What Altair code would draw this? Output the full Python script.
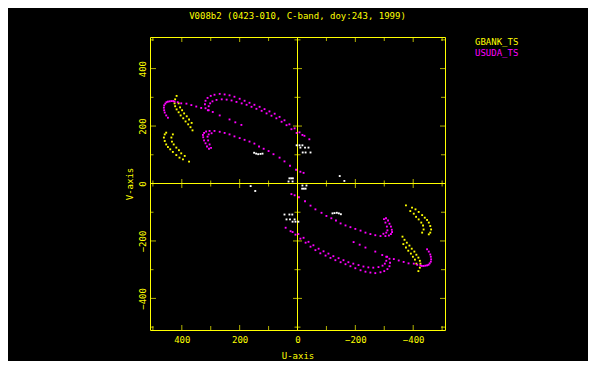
import altair as alt
import pandas as pd

TITLE = "V008b2 (0423-010, C-band, doy:243, 1999)"
STATIONS = ["GBANK_TS", "USUDA_TS", "other"]
COLORS = ["#ffff00", "#ff00ff", "#ffffff"]
YEL = "#ffff00"
FONT = "DejaVu Sans Mono"

# USUDA_TS tracks (one half of the uv-plane; the conjugate half is (-u, -v))
usuda_u = [448, 454, 459, 461, 462, 461, 457, 453, 448, 442, 436, 430, 425, 414, 402, 384, 367, 350, 333, 310, 293, 269, 235, 215, 194,
           318, 320, 318, 311, 300, 287, 269, 252, 235, 218, 200, 183, 166, 149, 131, 114, 97, 79, 62, 45, 28, 10, -7, -24, -41,
           307, 307, 302, 294, 280, 262, 245, 228, 211, 193, 176, 159, 142, 124, 107, 90, 73, 55, 38, 21, 3, -17,
           306, 313, 318, 323, 326, 327, 323, 316, 304, 287, 269, 252, 235, 218, 200, 183, 166, 149, 133, 117, 100, 83, 62, 45, 26, 5, -10, -21,
           299, 304, 309, 311, 307, 297]
usuda_v = [229, 237, 247, 255, 264, 272, 278, 283, 285, 286, 287, 287, 285, 283, 279, 278, 273, 268, 263, 255, 249, 237, 223, 213, 204,
           262, 276, 288, 298, 305, 309, 312, 310, 307, 302, 295, 288, 281, 274, 267, 259, 251, 243, 232, 220, 206, 192, 178, 166, 154,
           255, 269, 279, 286, 291, 293, 292, 289, 284, 279, 274, 267, 260, 253, 244, 236, 227, 215, 203, 189, 176, 169,
           121, 129, 140, 150, 161, 169, 176, 181, 183, 183, 180, 176, 171, 164, 158, 152, 146, 139, 129, 121, 113, 102, 90, 77, 62, 48, 41, 37,
           124, 136, 150, 163, 171, 175]

# GBANK_TS tracks
gbank_u = [418, 423, 425, 423, 418, 411, 404, 395, 387, 378, 370, 363,
           411, 406, 399, 392, 383, 375, 366,
           454, 459, 462, 459, 454, 448, 440, 431, 419, 408, 396, 375,
           431, 436, 434, 428, 419, 410, 402, 390]
gbank_v = [305, 293, 279, 269, 258, 248, 237, 227, 216, 206, 196, 185,
           279, 265, 255, 244, 234, 223, 211,
           177, 171, 160, 148, 136, 127, 119, 110, 99, 90, 84, 76,
           171, 160, 146, 136, 125, 116, 105, 96]

# other (short) baselines, drawn white
other_u = [150, 143, 136, 128, 121, 162, 146, 3, -7, -17, -10, -26, -38, -18, -28, -45, 16, 22, 28, 31, 17]
other_v = [107, 104, 102, 103, 104, -9, -26, 133, 133, 133, 125, 125, 125, 108, 108, 108, 18, 18, 18, 7, 7]

major_ticks = [-400, -200, 0, 200, 400]
minor_ticks = [-500, -300, -100, 100, 300, 500]
LIM = 510

rows = []
for name, us, vs in [("GBANK_TS", gbank_u, gbank_v), ("USUDA_TS", usuda_u, usuda_v), ("other", other_u, other_v)]:
    for u, v in zip(us, vs):
        rows.append({"station": name, "u": u, "v": v})
        rows.append({"station": name, "u": -u, "v": -v})
df = pd.DataFrame(rows)

W, H = 295, 293

xs = alt.Scale(domain=[-LIM, LIM], reverse=True, nice=False, zero=False)
ys = alt.Scale(domain=[-LIM, LIM], nice=False, zero=False)

x_axis = alt.Axis(values=major_ticks, title="U-axis", ticks=False, domain=False, grid=False,
                  labelFont=FONT, labelFontSize=9, labelColor=YEL, labelPadding=5,
                  titleFont=FONT, titleFontSize=9, titleFontWeight="normal", titleColor=YEL, titlePadding=7)
y_axis = alt.Axis(values=major_ticks, title="V-axis", ticks=False, domain=False, grid=False,
                  labelFont=FONT, labelFontSize=9, labelColor=YEL, labelPadding=3,
                  labelAngle=270, labelAlign="center", labelBaseline="bottom",
                  titleFont=FONT, titleFontSize=9, titleFontWeight="normal", titleColor=YEL, titlePadding=4)


def X(f):
    return alt.X(f"{f}:Q", scale=xs, axis=x_axis)


def Y(f):
    return alt.Y(f"{f}:Q", scale=ys, axis=y_axis)


xt_major = pd.DataFrame({"u": major_ticks})
xt_minor = pd.DataFrame({"u": minor_ticks})
yt_major = pd.DataFrame({"v": major_ticks})
yt_minor = pd.DataFrame({"v": minor_ticks})

layers = []
# central axes
layers.append(alt.Chart(pd.DataFrame({"u": [0]})).mark_rule(color=YEL, strokeWidth=1).encode(x=X("u")))
layers.append(alt.Chart(pd.DataFrame({"v": [0]})).mark_rule(color=YEL, strokeWidth=1).encode(y=Y("v")))

# frame ticks (inward)
for d, L in [(xt_major, 5), (xt_minor, 4)]:
    layers.append(alt.Chart(d).mark_tick(orient="vertical", size=L, thickness=1, color=YEL, yOffset=-L / 2)
                  .encode(x=X("u"), y=alt.datum(-LIM)))
    layers.append(alt.Chart(d).mark_tick(orient="vertical", size=L, thickness=1, color=YEL, yOffset=L / 2)
                  .encode(x=X("u"), y=alt.datum(LIM)))
    layers.append(alt.Chart(d).mark_tick(orient="vertical", size=9 if L == 5 else 6, thickness=1, color=YEL)
                  .encode(x=X("u"), y=alt.datum(0)))
for d, L in [(yt_major, 6), (yt_minor, 3.5)]:
    layers.append(alt.Chart(d).mark_tick(orient="horizontal", size=L, thickness=1, color=YEL, xOffset=L / 2)
                  .encode(y=Y("v"), x=alt.datum(LIM)))
    layers.append(alt.Chart(d).mark_tick(orient="horizontal", size=5 if L == 6 else 4, thickness=1, color=YEL,
                                         xOffset=-(5 if L == 6 else 4) / 2)
                  .encode(y=Y("v"), x=alt.datum(-LIM)))
    layers.append(alt.Chart(d).mark_tick(orient="horizontal", size=9 if L == 6 else 6, thickness=1, color=YEL)
                  .encode(y=Y("v"), x=alt.datum(0)))

# uv points
layers.append(alt.Chart(df).mark_square(size=3.5, opacity=1).encode(
    x=X("u"), y=Y("v"),
    color=alt.Color("station:N", scale=alt.Scale(domain=STATIONS, range=COLORS), legend=None)))

# title
layers.append(alt.Chart(pd.DataFrame({"t": [TITLE]})).mark_text(
    font=FONT, fontSize=9, color=YEL, align="center", baseline="middle").encode(
    text="t:N", x=alt.value(W / 2), y=alt.value(-21)))

# legend labels
for i in range(2):
    layers.append(alt.Chart(pd.DataFrame({"station": [STATIONS[i]]})).mark_text(
        font=FONT, fontSize=9, align="left", baseline="middle").encode(
        text="station:N", color=alt.value(COLORS[i]), x=alt.value(325), y=alt.value(5 + 11 * i)))

chart = alt.layer(*layers).properties(
    width=W, height=H,
    padding={"left": 142, "top": 29, "right": 143, "bottom": 31},
    autosize=alt.AutoSizeParams(type="none"),
).configure(background="black").configure_view(stroke=YEL, strokeWidth=1)

chart.save("out.html", embed_options={"renderer": "svg", "actions": False})
